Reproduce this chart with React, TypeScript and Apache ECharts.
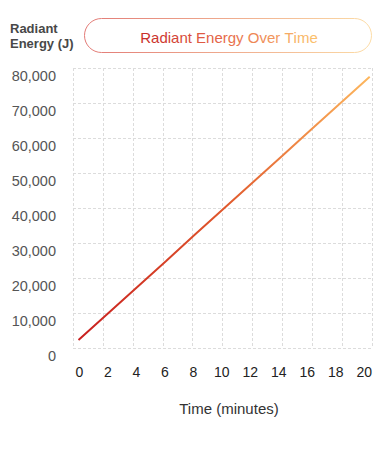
import React, { useEffect, useRef } from "react";
import * as echarts from "echarts";

const minutes = [0, 2, 4, 6, 8, 10, 12, 14, 16, 18, 20];
const energy = [4400, 11900, 19400, 26900, 34500, 42000, 49500, 57000, 64600, 72100, 79600];
const xTickLabels = [0, 2, 4, 6, 8, 10, 12, 14, 16, 18, 20];
const titleText = "Radiant Energy Over Time";
const yAxisName = "Radiant\nEnergy (J)";
const xAxisName = "Time (minutes)";

const FONT = "'Liberation Sans', Arial, Helvetica, sans-serif";

function hexToRgb(h: string) {
  const n = parseInt(h.slice(1), 16);
  return [(n >> 16) & 255, (n >> 8) & 255, n & 255];
}
function mix(a: string, b: string, t: number) {
  const A = hexToRgb(a);
  const B = hexToRgb(b);
  const c = A.map((v, i) => Math.round(v + (B[i] - v) * t));
  return `rgb(${c[0]},${c[1]},${c[2]})`;
}
function gradColor(t: number) {
  const stops: [number, string][] = [
    [0, "#c9302c"],
    [0.45, "#e6664a"],
    [1, "#fbbf6c"],
  ];
  for (let i = 0; i < stops.length - 1; i++) {
    const [o0, c0] = stops[i];
    const [o1, c1] = stops[i + 1];
    if (t <= o1) return mix(c0, c1, (t - o0) / (o1 - o0));
  }
  return stops[stops.length - 1][1];
}

export default function App() {
  const ref = useRef<HTMLDivElement>(null);
  useEffect(() => {
    document.body.style.margin = "0";
    const chart = echarts.init(ref.current!, null, { renderer: "svg" });
    const gridSplit = {
      show: true,
      lineStyle: { color: "#dcdcdc", type: [3, 2], width: 1 },
    };
    const chars = titleText.split("");
    const rich: Record<string, any> = {};
    let richText = "";
    chars.forEach((ch, i) => {
      const key = "c" + i;
      const col = gradColor(i / (chars.length - 1));
      rich[key] = {
        fill: col,
        color: col,
        fontSize: 15,
        fontFamily: FONT,
      };
      richText += `{${key}|${ch}}`;
    });
    chart.setOption({
      animation: false,
      textStyle: { fontFamily: FONT },
      grid: { left: 73, top: 68, width: 300, height: 280 },
      xAxis: [
        {
          type: "value",
          min: 0,
          max: 20,
          interval: 2,
          axisLine: { show: false },
          axisTick: { show: false },
          axisLabel: { show: false },
          splitLine: gridSplit,
        },
        {
          type: "value",
          min: -0.455,
          max: 20.56,
          position: "bottom",
          axisLine: { show: false },
          axisTick: { show: false },
          splitLine: { show: false },
          axisLabel: {
            customValues: xTickLabels,
            margin: 17,
            color: "#222",
            fontSize: 14,
            fontFamily: FONT,
          },
        },
        {
          type: "value",
          min: -0.377,
          max: 20.17,
          show: false,
        },
      ],
      yAxis: [
        {
          type: "value",
          min: 0,
          max: 80000,
          interval: 10000,
          axisLine: { show: false },
          axisTick: { show: false },
          axisLabel: {
            margin: 17,
            color: "#555",
            fontSize: 14.5,
            fontFamily: FONT,
            verticalAlign: "top",
            lineHeight: 16,
          },
          splitLine: gridSplit,
        },
        {
          type: "value",
          min: 2100,
          max: 82100,
          show: false,
        },
      ],
      series: [
        {
          type: "line",
          xAxisIndex: 2,
          yAxisIndex: 1,
          symbol: "none",
          showSymbol: false,
          data: minutes.map((m, i) => [m, energy[i]]),
          lineStyle: {
            width: 2,
            color: new echarts.graphic.LinearGradient(0, 0, 1, 0, [
              { offset: 0, color: "#c81f1f" },
              { offset: 0.5, color: "#e0582c" },
              { offset: 1, color: "#fdb75e" },
            ]),
          },
        },
      ],
      graphic: [
        {
          type: "rect",
          shape: { x: 84.5, y: 18.5, width: 287, height: 34, r: 17 },
          style: {
            fill: "#fff",
            lineWidth: 1,
            stroke: new echarts.graphic.LinearGradient(0, 0, 1, 0, [
              { offset: 0, color: "#e27a76" },
              { offset: 1, color: "#fcdca6" },
            ]),
          },
        },
        {
          type: "text",
          x: 229,
          y: 37,
          style: {
            text: richText,
            rich,
            fontSize: 15,
            fontFamily: FONT,
            align: "center",
            verticalAlign: "middle",
          },
        },
        {
          type: "text",
          x: 10,
          y: 21,
          style: {
            text: yAxisName,
            fontSize: 13,
            fontWeight: "bold",
            lineHeight: 15,
            fontFamily: FONT,
            fill: "#484848",
            align: "left",
            verticalAlign: "top",
          },
        },
        {
          type: "text",
          x: 229,
          y: 408,
          style: {
            text: xAxisName,
            fontSize: 15,
            fontFamily: FONT,
            fill: "#333",
            align: "center",
            verticalAlign: "middle",
          },
        },
      ],
    });
    return () => chart.dispose();
  }, []);
  return <div ref={ref} style={{ width: 375, height: 450 }} />;
}
